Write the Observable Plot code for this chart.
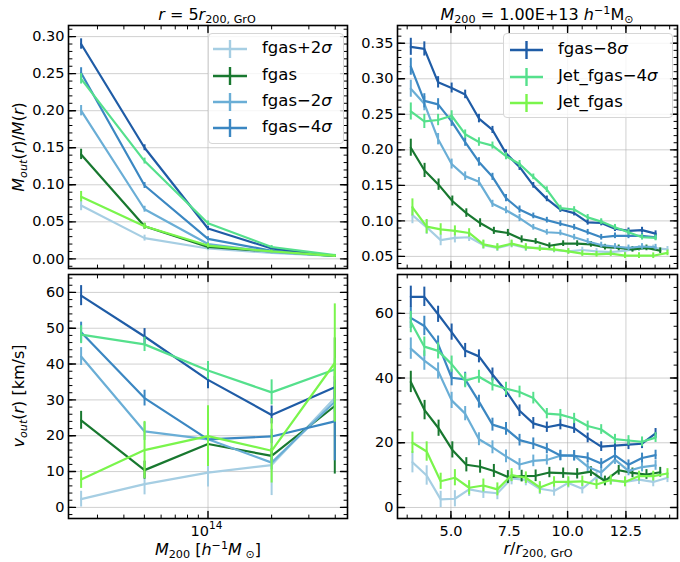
<!DOCTYPE html>
<html><head><meta charset="utf-8">
<script src="https://cdn.jsdelivr.net/npm/d3@7"></script>
<script src="https://cdn.jsdelivr.net/npm/@observablehq/plot@0.6"></script>
<style>
body{margin:0;background:#fff;}
#wrap{position:relative;width:680px;height:562px;font-family:"DejaVu Sans",sans-serif;color:#000;overflow:hidden;}
.t{position:absolute;font-size:16px;white-space:nowrap;line-height:1;}
.t sub{font-size:0.7em;vertical-align:-0.3em;line-height:0;}
.t sup{font-size:0.7em;vertical-align:0.5em;line-height:0;}
.leg{position:absolute;background:rgba(255,255,255,0.8);border:1px solid #d6d6d6;border-radius:4px;box-sizing:border-box;}
.leg .row{position:absolute;font-size:16.5px;line-height:1;white-space:nowrap;}
</style></head><body><div id="wrap"></div>
<script>
// ---------------- data ----------------
const seriesNames = ["fgas+2σ","fgas","fgas−2σ","fgas−4σ","fgas−8σ","Jet_fgas−4σ","Jet_fgas"];
const seriesColors = ["#a6cee3","#18782f","#6aaed6","#3b87c2","#1f5ca6","#55e08c","#7af54c"];

// left panels: halo mass bins
const massBins = [2.51e13, 5.01e13, 1.0e14, 2.0e14, 3.98e14];
const massTicks = [1e14];
const massTickBase = ["10"];
const massTickExp = ["14"];
const massMinorTicks = [3e13,4e13,5e13,6e13,7e13,8e13,9e13,2e14,3e14,4e14];

// top-left: M_out/M at r = 5 r200
const moutP2 = [0.072, 0.028, 0.014, 0.008, 0.004];
const moutF  = [0.141, 0.044, 0.016, 0.010, 0.004];
const moutM2 = [0.200, 0.067, 0.020, 0.009, 0.004];
const moutM4 = [0.251, 0.099, 0.027, 0.011, 0.004];
const moutM8 = [0.290, 0.150, 0.041, 0.014, 0.004];
const moutJ4 = [0.243, 0.132, 0.048, 0.016, 0.005];
const moutJ  = [0.084, 0.044, 0.018, 0.010, 0.004];
const moutErr = [0.007, 0.004, 0.003, 0.002, 0.001];

// bottom-left: v_out at r = 5 r200
const voutP2 = [2.3, 6.5, 9.7, 11.8, 30.5];
const voutF  = [24.3, 10.4, 17.7, 14.4, 28.3];
const voutM2 = [42.1, 21.2, 19.0, 12.5, 29.5];
const voutM4 = [48.9, 30.5, 19.0, 19.8, 24.0];
const voutM8 = [59.1, 47.7, 35.6, 25.8, 33.5];
const voutJ4 = [48.2, 45.5, 38.2, 32.1, 38.5];
const voutJ  = [7.8, 16.0, 19.9, 15.8, 40.3];
const voutErrP2 = [2.2, 3.0, 4.0, 8.5, 3.0];
const voutErrF  = [2.5, 2.5, 2.5, 2.0, 19.0];
const voutErrM2 = [2.5, 2.5, 2.0, 2.0, 3.0];
const voutErrM4 = [2.8, 2.2, 2.0, 2.0, 11.0];
const voutErrM8 = [2.8, 2.2, 2.5, 2.5, 3.0];
const voutErrJ4 = [2.5, 2.0, 2.5, 3.5, 3.0];
const voutErrJ  = [2.5, 8.0, 8.5, 9.0, 16.5];

// right panels: radial bins r/r200
const rGridA = [3.28,3.86,4.45,5.03,5.61,6.20,6.78,7.36,7.94,8.53,9.11,9.69,10.28,10.86,11.44,12.03,12.61,13.19,13.77];
const rGridF = [3.28,3.87,4.47,5.06,5.66,6.25,6.84,7.44,8.03,8.63,9.22,9.81,10.41,11.00,11.60,12.19,12.78,13.38,13.97];
const rGridB = [3.35,3.96,4.56,5.17,5.78,6.39,6.99,7.60,8.21,8.81,9.42,10.03,10.63,11.24,11.85,12.46,13.06,13.67,14.28];

// top-right: M_out/M profile at M200 = 1e13
const profMP2 = [0.108,0.091,0.073,0.076,0.077,0.066,0.062,0.067,0.062,0.062,0.059,0.057,0.059,0.057,0.056,0.058,0.061,0.062,0.060];
const profMF  = [0.203,0.171,0.151,0.128,0.111,0.097,0.086,0.083,0.074,0.071,0.065,0.068,0.068,0.067,0.063,0.062,0.060,0.062,0.058];
const profMM2 = [0.286,0.265,0.215,0.180,0.163,0.155,0.124,0.115,0.104,0.091,0.084,0.083,0.077,0.071,0.066,0.064,0.062,0.064,0.063];
const profMM4 = [0.317,0.269,0.264,0.240,0.211,0.183,0.162,0.132,0.116,0.107,0.101,0.096,0.091,0.084,0.077,0.079,0.079,0.079,0.077];
const profMM8 = [0.345,0.342,0.295,0.287,0.278,0.244,0.228,0.195,0.176,0.150,0.131,0.116,0.111,0.098,0.097,0.089,0.086,0.087,0.082];
const profMJ4 = [0.254,0.240,0.242,0.248,0.222,0.211,0.206,0.191,0.180,0.162,0.144,0.118,0.116,0.105,0.099,0.091,0.084,0.077,0.076];
const profMJ  = [0.119,0.092,0.088,0.086,0.083,0.067,0.063,0.068,0.063,0.061,0.060,0.057,0.054,0.053,0.054,0.051,0.051,0.051,0.055];
const profMErr = [0.012,0.010,0.008,0.007,0.006,0.006,0.005,0.005,0.005,0.004,0.004,0.004,0.004,0.004,0.004,0.004,0.004,0.004,0.004];

// bottom-right: v_out profile at M200 = 1e13
const profVP2 = [14.0,9.9,2.5,2.7,5.6,4.8,4.4,9.0,8.5,5.8,5.1,7.6,5.8,9.4,8.4,7.9,8.6,7.9,9.2];
const profVF  = [38.8,30.1,24.5,17.8,13.2,12.6,11.3,9.4,9.7,9.8,10.8,10.6,10.4,11.1,8.2,11.5,10.7,10.2,10.9];
const profVM2 = [49.1,45.4,42.2,33.1,29.0,21.1,18.6,15.8,13.3,14.4,14.7,16.0,16.0,12.6,10.8,14.8,11.3,12.5,13.0];
const profVM4 = [58.6,56.1,50.5,40.1,39.6,32.7,25.6,24.3,20.8,19.7,18.2,16.1,16.0,15.4,13.6,16.1,13.2,15.3,16.2];
const profVM8 = [65.1,65.1,59.7,54.2,48.5,46.7,41.1,36.0,29.9,26.0,24.8,25.6,24.5,21.5,18.8,19.1,19.4,19.7,22.9];
const profVJ4 = [57.3,49.7,48.4,44.3,39.2,40.4,38.0,36.7,35.7,33.8,29.0,28.7,27.5,25.2,24.1,21.1,20.7,20.3,21.6];
const profVJ  = [20.0,17.3,8.1,9.2,6.1,6.8,5.6,10.0,9.2,6.2,7.9,7.9,8.1,7.1,8.5,7.9,9.7,9.7,10.5];
const profVErr = [3.3,3.0,2.5,2.5,2.2,2.0,2.0,2.0,1.8,1.8,1.6,1.6,1.6,1.5,1.5,1.5,1.5,1.5,1.5];

// ticks
const moutTicks = [0.00,0.05,0.10,0.15,0.20,0.25,0.30];
const voutTicks = [0,10,20,30,40,50,60];
const profMTicks = [0.05,0.10,0.15,0.20,0.25,0.30,0.35];
const profVTicks = [0,20,40,60];
const rTicks = [5.0,7.5,10.0,12.5];

// ---------------- drawing ----------------
const rGrids = [rGridB, rGridF, rGridA, rGridA, rGridA, rGridA, rGridB];
const wrap = document.getElementById("wrap");
const tickShape = {draw(ctx, l) { ctx.moveTo(0, 0); ctx.lineTo(0, -l); }};

function rows(xs, ys, es) { return ys.map((y, i) => ({x: xs[i], y, e: es[i]})); }

function ticks(arr, side, len, sw) {
  const base = {length: len, anchor: "start", shape: tickShape, stroke: "#000", strokeWidth: sw};
  if (side === "bottom") return Plot.vector(arr, {...base, x: d => d, frameAnchor: "bottom", rotate: 0});
  if (side === "top") return Plot.vector(arr, {...base, x: d => d, frameAnchor: "top", rotate: 180});
  if (side === "left") return Plot.vector(arr, {...base, y: d => d, frameAnchor: "left", rotate: 90});
  return Plot.vector(arr, {...base, y: d => d, frameAnchor: "right", rotate: -90});
}

function panel(c) {
  const marks = [
    Plot.gridX(c.xMajor, {stroke: "#b0b0b0", strokeOpacity: 0.6, strokeWidth: 1}),
    Plot.gridY(c.yMajor, {stroke: "#b0b0b0", strokeOpacity: 0.6, strokeWidth: 1})
  ];
  c.series.forEach((s, k) => {
    const d = rows(s.x, s.y, s.e);
    marks.push(Plot.ruleX(d, {x: "x", y1: r => r.y - r.e, y2: r => r.y + r.e, stroke: seriesColors[k], strokeWidth: 2}));
    marks.push(Plot.line(d, {x: "x", y: "y", stroke: seriesColors[k], strokeWidth: 2.2}));
  });
  marks.push(Plot.frame({stroke: "#000", strokeWidth: 1.6}));
  for (const side of ["bottom", "top"]) {
    marks.push(ticks(c.xMinor, side, 3.5, 1));
    marks.push(ticks(c.xMajor, side, 7, 1.4));
  }
  for (const side of ["left", "right"]) {
    marks.push(ticks(c.yMinor, side, 3.5, 1));
    marks.push(ticks(c.yMajor, side, 7, 1.4));
  }
  marks.push(Plot.axisY(c.yMajor, {anchor: "left", tickSize: 0, tickPadding: 4, tickFormat: c.yFmt, fontSize: 14.5, label: null}));
  if (c.xFmt) marks.push(Plot.axisX(c.xMajor, {anchor: "bottom", tickSize: 0, tickPadding: c.xPad, tickFormat: c.xFmt, fontSize: 14.5, label: null}));
  if (c.xPow) {
    marks.push(Plot.text(c.xMajor, {x: d => d, frameAnchor: "bottom", text: (d, i) => massTickBase[i], textAnchor: "end", lineAnchor: "top", dy: 7, dx: 1, fontSize: 14.5}));
    marks.push(Plot.text(c.xMajor, {x: d => d, frameAnchor: "bottom", text: (d, i) => massTickExp[i], textAnchor: "start", lineAnchor: "top", dy: 3, dx: 1, fontSize: 10.5}));
  }
  const svg = Plot.plot({
    width: c.width, height: c.height,
    marginLeft: c.mL, marginRight: c.mR, marginTop: c.mT, marginBottom: c.mB,
    x: {type: c.xType || "linear", domain: c.xDomain, axis: c.xFmt ? undefined : null},
    y: {domain: c.yDomain},
    style: {background: "transparent", overflow: "visible", fontFamily: "DejaVu Sans", color: "#000"},
    marks
  });
  svg.style.position = "absolute";
  svg.style.left = c.left + "px";
  svg.style.top = c.top + "px";
  wrap.appendChild(svg);
}

const mk = (xs, ys, es) => ({x: xs, y: ys, e: es});
const massRep = massBins;

panel({
  left: 0, top: 0, width: 352, height: 272, mL: 68, mR: 5, mT: 25, mB: 4,
  xType: "log", xDomain: [10 ** 13.34, 10 ** 14.66], yDomain: [-0.013, 0.315],
  xMajor: massTicks, xMinor: massMinorTicks, yMajor: moutTicks, yMinor: d3.range(-0.01, 0.3151, 0.01),
  yFmt: d3.format(".2f"),
  series: [mk(massRep, moutP2, moutErr), mk(massRep, moutF, moutErr), mk(massRep, moutM2, moutErr), mk(massRep, moutM4, moutErr),
           mk(massRep, moutM8, moutErr), mk(massRep, moutJ4, moutErr), mk(massRep, moutJ, moutErr)]
});
panel({
  left: 0, top: 270, width: 352, height: 292, mL: 68, mR: 5, mT: 4, mB: 44,
  xType: "log", xDomain: [10 ** 13.34, 10 ** 14.66], yDomain: [-3.1, 65],
  xMajor: massTicks, xMinor: massMinorTicks, yMajor: voutTicks, yMinor: d3.range(-2, 65, 2),
  yFmt: d3.format("d"), xPow: true,
  series: [mk(massRep, voutP2, voutErrP2), mk(massRep, voutF, voutErrF), mk(massRep, voutM2, voutErrM2), mk(massRep, voutM4, voutErrM4),
           mk(massRep, voutM8, voutErrM8), mk(massRep, voutJ4, voutErrJ4), mk(massRep, voutJ, voutErrJ)]
});
panel({
  left: 340, top: 0, width: 340, height: 272, mL: 57, mR: 3, mT: 25, mB: 4,
  xDomain: [2.71, 14.71], yDomain: [0.033, 0.375],
  xMajor: rTicks, xMinor: d3.range(3.125, 14.7, 0.625), yMajor: profMTicks, yMinor: d3.range(0.04, 0.375, 0.01),
  yFmt: d3.format(".2f"),
  series: [mk(rGrids[0], profMP2, profMErr), mk(rGrids[1], profMF, profMErr), mk(rGrids[2], profMM2, profMErr), mk(rGrids[3], profMM4, profMErr),
           mk(rGrids[4], profMM8, profMErr), mk(rGrids[5], profMJ4, profMErr), mk(rGrids[6], profMJ, profMErr)]
});
panel({
  left: 340, top: 270, width: 340, height: 292, mL: 57, mR: 3, mT: 4, mB: 44,
  xDomain: [2.71, 14.71], yDomain: [-3.4, 72],
  xMajor: rTicks, xMinor: d3.range(3.125, 14.7, 0.625), yMajor: profVTicks, yMinor: d3.range(0, 72, 4),
  yFmt: d3.format("d"), xFmt: d3.format(".1f"), xPad: 7,
  series: [mk(rGrids[0], profVP2, profVErr), mk(rGrids[1], profVF, profVErr), mk(rGrids[2], profVM2, profVErr), mk(rGrids[3], profVM4, profVErr),
           mk(rGrids[4], profVM8, profVErr), mk(rGrids[5], profVJ4, profVErr), mk(rGrids[6], profVJ, profVErr)]
});

// ---------------- text ----------------
function addText(html, css) {
  const d = document.createElement("div");
  d.className = "t";
  d.innerHTML = html;
  Object.assign(d.style, css);
  wrap.appendChild(d);
}
addText('<i>r</i> = 5<i>r</i><sub>200, GrO</sub>', {left: "207px", top: "7px", transform: "translateX(-50%)"});
addText('<i>M</i><sub>200</sub> = 1.00E+13 <i>h</i><sup>−1</sup>M<sub>⊙</sub>', {left: "537px", top: "7px", transform: "translateX(-50%)"});
addText('<i>M<sub>out</sub></i>(<i>r</i>)/<i>M</i>(<i>r</i>)', {left: "19px", top: "147px", transform: "translate(-50%,-50%) rotate(-90deg)"});
addText('<i>v<sub>out</sub></i>(<i>r</i>) [km/s]', {left: "19px", top: "396px", transform: "translate(-50%,-50%) rotate(-90deg)"});
addText('<i>M</i><sub>200</sub> [<i>h</i><sup>−1</sup><i>M</i><sub> ⊙</sub>]', {left: "208px", top: "542px", transform: "translateX(-50%)"});
addText('<i>r</i>/<i>r</i><sub>200, GrO</sub>', {left: "538px", top: "541px", transform: "translateX(-50%)"});

// ---------------- legends ----------------
function legend(box, idxs, rowYs, hx0, hx1, tx) {
  const d = document.createElement("div");
  d.className = "leg";
  Object.assign(d.style, {left: box[0] + "px", top: box[1] + "px", width: box[2] + "px", height: box[3] + "px"});
  idxs.forEach((k, j) => {
    const cy = rowYs[j] - box[1];
    const s = document.createElementNS("http://www.w3.org/2000/svg", "svg");
    s.setAttribute("width", box[2]); s.setAttribute("height", 24);
    s.style.position = "absolute"; s.style.left = "-1px"; s.style.top = (cy - 13) + "px";
    const mid = (hx0 + hx1) / 2;
    s.innerHTML = `<line x1="${hx0}" x2="${hx1}" y1="12" y2="12" stroke="${seriesColors[k]}" stroke-width="2.4"/>` +
                  `<line x1="${mid}" x2="${mid}" y1="3" y2="21" stroke="${seriesColors[k]}" stroke-width="2.4"/>`;
    d.appendChild(s);
    const t = document.createElement("div");
    t.className = "row";
    const nm = seriesNames[k].replace(/σ$/, "<i>σ</i>");
    t.innerHTML = nm;
    Object.assign(t.style, {left: (tx - 1) + "px", top: (cy - 10) + "px"});
    d.appendChild(t);
  });
  wrap.appendChild(d);
}
legend([208, 33, 136, 111], [0, 1, 2, 3], [49, 76, 102, 128], 5, 39, 54);
legend([503, 33, 170, 85], [4, 5, 6], [50, 77, 103], 7, 40, 55);
</script></body></html>
